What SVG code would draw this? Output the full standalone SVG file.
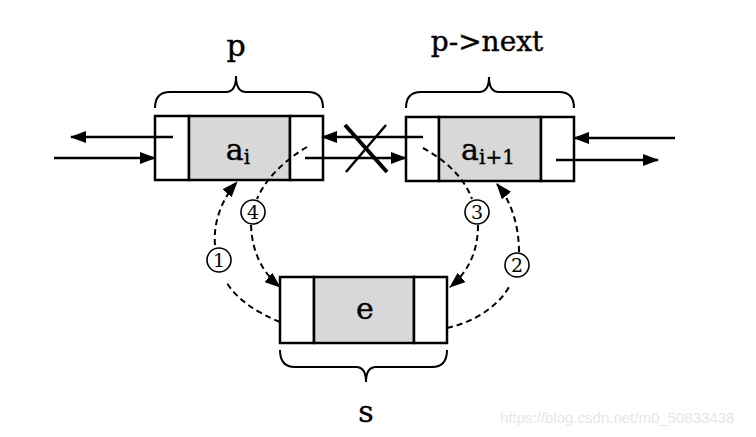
<svg xmlns="http://www.w3.org/2000/svg" width="756" height="437" viewBox="0 0 756 437">
<defs>
<marker id="ah" markerUnits="userSpaceOnUse" markerWidth="16" markerHeight="12" refX="15" refY="6" orient="auto">
<path d="M0,0 L16,6 L0,12 Z" fill="#000"/>
</marker>
<style>
.cell{fill:#fff;stroke:#000;stroke-width:2.5}
.data{fill:#d8d8d8;stroke:#000;stroke-width:2.5}
.brace{fill:none;stroke:#000;stroke-width:2}
.lbl{font-family:'DejaVu Serif', serif;font-size:30px;fill:#000;stroke:#000;stroke-width:0.4;text-anchor:middle}
.sub{font-size:20px}
.solid{fill:none;stroke:#000;stroke-width:2.5;marker-end:url(#ah)}
.dash{fill:none;stroke:#000;stroke-width:2;stroke-dasharray:6 4}
.dasha{fill:none;stroke:#000;stroke-width:2;stroke-dasharray:6 4;marker-end:url(#ah)}
.num{fill:#fff;stroke:#000;stroke-width:1.6}
.numt{font-family:'DejaVu Serif', serif;font-size:19px;fill:#000;text-anchor:middle}
.wm{font-family:'Liberation Sans', Arial, sans-serif;font-size:15px;fill:#e6e6e6}
</style>
</defs>
<rect width="756" height="437" fill="#fff"/>

<g id="node-p">
<rect class="cell" x="155" y="116" width="34" height="64"/>
<rect class="data" x="189" y="116" width="101" height="64"/>
<rect class="cell" x="290" y="116" width="33" height="64"/>
<text class="lbl" x="238" y="160">a<tspan class="sub" dy="4">i</tspan></text>
<path class="brace" d="M155,108 Q155,92 170,92 L226,92 Q236,92 236,76 Q236,92 246,92 L308,92 Q323,92 323,108"/>
<text class="lbl" x="236" y="56">p</text>
</g>

<g id="node-next">
<rect class="cell" x="406" y="117" width="33" height="64"/>
<rect class="data" x="439" y="117" width="102" height="64"/>
<rect class="cell" x="541" y="117" width="33" height="64"/>
<text class="lbl" x="488" y="160">a<tspan class="sub" dy="4">i+1</tspan></text>
<path class="brace" d="M406,108 Q406,92 421,92 L479,92 Q489,92 489,77 Q489,92 499,92 L559,92 Q574,92 574,108"/>
<text class="lbl" x="487" y="51" style="font-size:28px">p-&gt;next</text>
</g>

<g id="node-s">
<rect class="cell" x="280" y="277" width="34" height="66"/>
<rect class="data" x="314" y="277" width="100" height="66"/>
<rect class="cell" x="414" y="277" width="33" height="66"/>
<text class="lbl" x="365" y="319">e</text>
<path class="brace" d="M280,350 Q280,367 295,367 L356,367 Q366,367 366,382 Q366,367 376,367 L432,367 Q447,367 447,350"/>
<text class="lbl" x="366" y="422">s</text>
</g>

<g id="connectors">
<path class="solid" d="M173,137 L71,137"/>
<path class="solid" d="M54,158 L155,158"/>
<path class="solid" d="M423,137 L322,137"/>
<path class="solid" d="M305,158 L406,158"/>
<path class="solid" d="M675,138 L574,138"/>
<path class="solid" d="M556,160 L658,160"/>
<path d="M345,125 L387,172" stroke="#000" stroke-width="4" fill="none"/>
<path d="M386,125 L346,172" stroke="#000" stroke-width="2.5" fill="none"/>

<path class="dash" d="M280,322 C255,312 236,298 227,283"/>
<path class="dasha" d="M215,245 C213,222 222,199 237,182"/>
<path class="dash" d="M307,147 C285,160 266,178 257,199"/>
<path class="dasha" d="M251,225 C252,252 262,272 280,287"/>
<path class="dash" d="M423,148 C445,160 464,177 472,199"/>
<path class="dasha" d="M478,225 C478,252 468,272 450,287"/>
<path class="dash" d="M447,328 C475,322 500,305 510,285"/>
<path class="dasha" d="M519,252 C519,225 511,201 497,184"/>

<circle class="num" cx="219" cy="260" r="12"/>
<text class="numt" x="219" y="267">1</text>
<circle class="num" cx="517" cy="265" r="12"/>
<text class="numt" x="517" y="272">2</text>
<circle class="num" cx="477" cy="212" r="12"/>
<text class="numt" x="477" y="219">3</text>
<circle class="num" cx="253" cy="212" r="12"/>
<text class="numt" x="253" y="219">4</text>
</g>

<text class="wm" x="500" y="423">https://blog.csdn.net/m0_50833438</text>
</svg>
